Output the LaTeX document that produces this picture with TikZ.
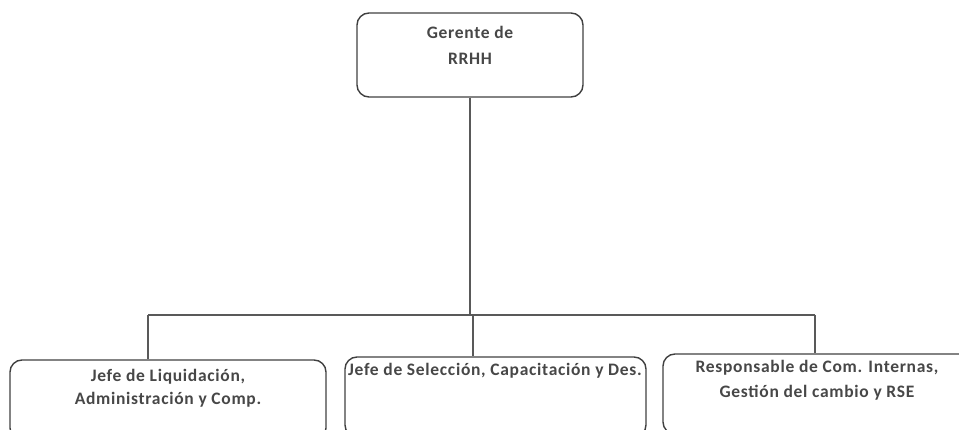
\documentclass[tikz,border=0pt]{standalone}
\usepackage{fontspec}
\setmainfont{Carlito}[LetterSpace=4]
\begin{document}
\begin{tikzpicture}[x=1pt,y=-1pt,
  box/.style={draw=black!75,line width=1.4pt,rounded corners=12pt,minimum width=#1,inner sep=0pt},
  lbl/.style={font=\bfseries\fontsize{17.5}{24}\selectfont,text=black!72,align=center,inner sep=0pt},
  conn/.style={draw=black!65,line width=1.8pt}]
\useasboundingbox (0,0) rectangle (959,430);
\clip (0,0) rectangle (959,430);
\node[box=226pt,minimum height=84pt] (top) at (470,55) {};
\node[lbl,font=\bfseries\fontsize{17.5}{26}\selectfont] (ttxt) at (470,45) {Gerente de\\RRHH};
\node[box=316pt,minimum height=80pt] (left) at (168,400) {};
\node[lbl,font=\bfseries\fontsize{17.5}{23}\selectfont] (ltxt) at (168,388) {Jefe de Liquidación,\\Administración y Comp.};
\node[box=301pt,minimum height=80pt] (mid) at (495.5,397) {};
\node[lbl] (mtxt) at (495,371) {Jefe de Selección, Capacitación y Des.};
\node[box=308pt,minimum height=80pt] (right) at (817,394) {};
\node[lbl,font=\bfseries\fontsize{17.5}{25}\selectfont] (rtxt) at (817,380) {Responsable de Com. Internas,\\Gestión del cambio y RSE};
\coordinate (bus) at (470,315);
\coordinate (jl) at (148,315);
\coordinate (jm) at (473,315);
\coordinate (jr) at (815,315);
\draw[conn] (top.south) -- (bus);
\draw[conn] (jl) -- (jr);
\draw[conn] (jl) -- (jl |- left.north);
\draw[conn] (jm) -- (jm |- mid.north);
\draw[conn] (jr) -- (jr |- right.north);
\end{tikzpicture}
\end{document}
